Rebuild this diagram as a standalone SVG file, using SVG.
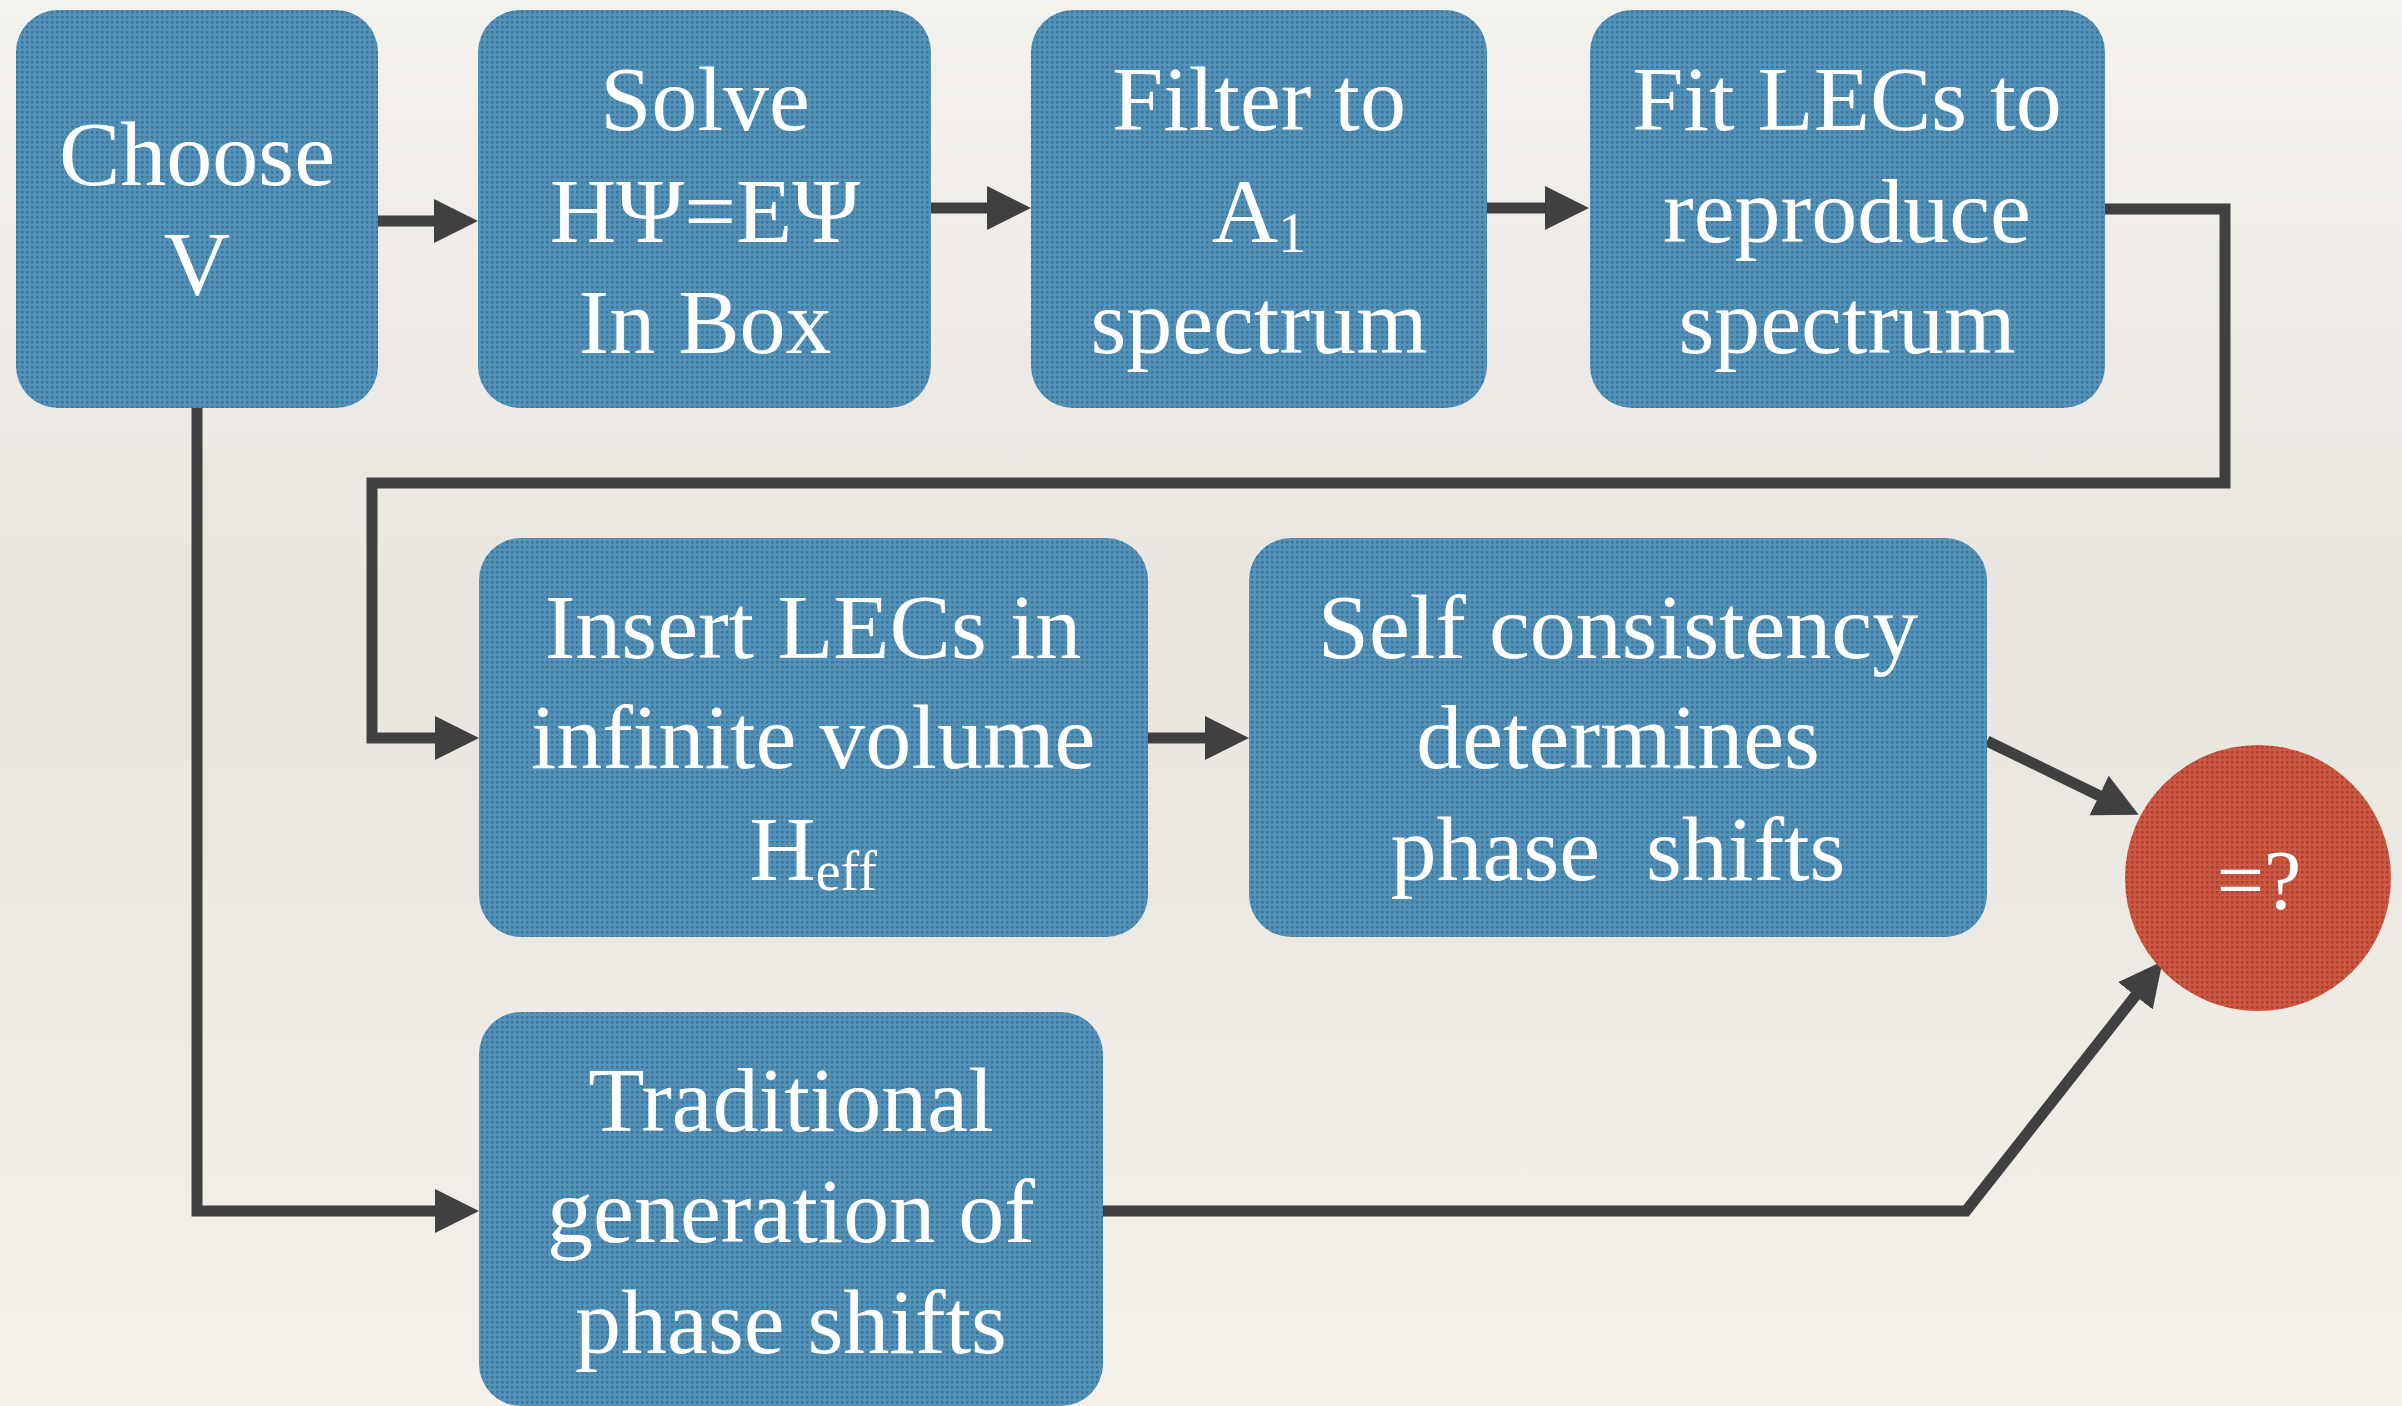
<svg xmlns="http://www.w3.org/2000/svg" width="2402" height="1406" viewBox="0 0 2402 1406">
  <defs>
    <linearGradient id="bg" x1="0" y1="0" x2="0" y2="1">
      <stop offset="0" stop-color="#f4f2ed"/>
      <stop offset="0.45" stop-color="#e8e5df"/>
      <stop offset="1" stop-color="#f4f1ea"/>
    </linearGradient>
    <pattern id="bluetex" width="5" height="5" patternUnits="userSpaceOnUse">
      <rect width="5" height="5" fill="#5493b9"/>
      <rect x="1" y="1" width="2.5" height="2.5" fill="#3c7499"/>
    </pattern>
    <pattern id="redtex" width="5" height="5" patternUnits="userSpaceOnUse">
      <rect width="5" height="5" fill="#cc5842"/>
      <rect x="1" y="1" width="2.5" height="2.5" fill="#a8402f"/>
    </pattern>
    <marker id="head" markerUnits="userSpaceOnUse" markerWidth="46" markerHeight="46" refX="1" refY="22" orient="auto">
      <path d="M0,0 L44,22 L0,44 Z" fill="#404040"/>
    </marker>
  </defs>
  <style>
    .box { fill: url(#bluetex); }
    .lbl { font-family: "Liberation Serif", "Times New Roman", serif; font-size: 92px; fill: #ffffff; text-anchor: middle; }
    .sub { font-size: 56px; }
    .conn { fill: none; stroke: #404040; stroke-width: 11; stroke-linejoin: miter; marker-end: url(#head); }
  </style>

  <rect x="0" y="0" width="2402" height="1406" fill="url(#bg)"/>

  <g id="connectors">
    <path class="conn" d="M378,221 L435,221"/>
    <path class="conn" d="M931,208 L988,208"/>
    <path class="conn" d="M1487,208 L1546,208"/>
    <path class="conn" d="M2105,209 L2225,209 L2225,483 L372,483 L372,738 L436,738"/>
    <path class="conn" d="M1148,738 L1206,738"/>
    <path class="conn" d="M1987,741 L2100,796"/>
    <path class="conn" d="M197,408 L197,1211 L436,1211"/>
    <path class="conn" d="M1103,1211 L1966,1211 L2136,995"/>
  </g>

  <g id="node-choose">
    <rect class="box" x="16" y="10" width="362" height="398" rx="42" ry="42"/>
    <text class="lbl" x="197" y="185">Choose</text>
    <text class="lbl" x="197" y="295">V</text>
  </g>

  <g id="node-solve">
    <rect class="box" x="478" y="10" width="453" height="398" rx="42" ry="42"/>
    <text class="lbl" x="705" y="130">Solve</text>
    <text class="lbl" x="705" y="242">HΨ=EΨ</text>
    <text class="lbl" x="705" y="353">In Box</text>
  </g>

  <g id="node-filter">
    <rect class="box" x="1031" y="10" width="456" height="398" rx="42" ry="42"/>
    <text class="lbl" x="1259" y="130">Filter to</text>
    <text class="lbl" x="1259" y="242">A<tspan class="sub" dy="10">1</tspan></text>
    <text class="lbl" x="1259" y="353">spectrum</text>
  </g>

  <g id="node-fit">
    <rect class="box" x="1590" y="10" width="515" height="398" rx="42" ry="42"/>
    <text class="lbl" x="1847" y="130">Fit LECs to</text>
    <text class="lbl" x="1847" y="242">reproduce</text>
    <text class="lbl" x="1847" y="353">spectrum</text>
  </g>

  <g id="node-insert">
    <rect class="box" x="479" y="538" width="669" height="399" rx="42" ry="42"/>
    <text class="lbl" x="813" y="658">Insert LECs in</text>
    <text class="lbl" x="813" y="768">infinite volume</text>
    <text class="lbl" x="813" y="880">H<tspan class="sub" dy="10">eff</tspan></text>
  </g>

  <g id="node-self">
    <rect class="box" x="1249" y="538" width="738" height="399" rx="42" ry="42"/>
    <text class="lbl" x="1618" y="658">Self consistency</text>
    <text class="lbl" x="1618" y="768">determines</text>
    <text class="lbl" x="1618" y="880" xml:space="preserve" style="white-space:pre">phase  shifts</text>
  </g>

  <g id="node-traditional">
    <rect class="box" x="479" y="1012" width="624" height="394" rx="42" ry="42"/>
    <text class="lbl" x="791" y="1131">Traditional</text>
    <text class="lbl" x="791" y="1242">generation of</text>
    <text class="lbl" x="791" y="1353">phase shifts</text>
  </g>

  <g id="node-result">
    <circle cx="2258" cy="878" r="133" fill="url(#redtex)"/>
    <text class="lbl" x="2259" y="909" style="font-size:84px">=?</text>
  </g>
</svg>
